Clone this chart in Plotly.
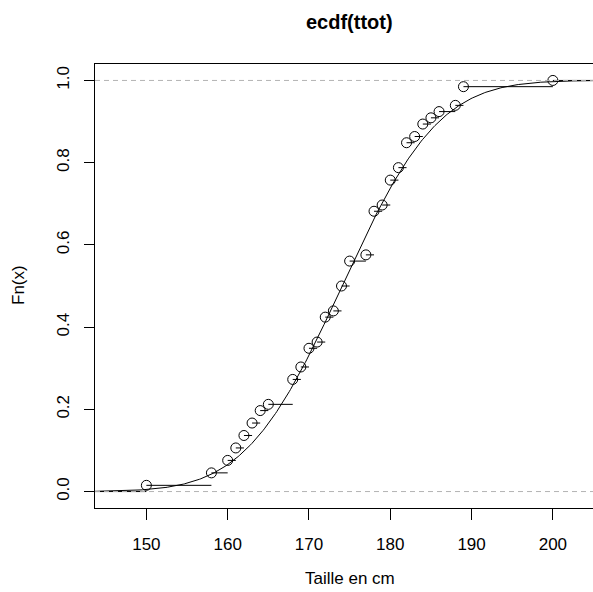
import math
import plotly.graph_objects as go

# Sample heights (cm) and how many times each occurs (n = 66)
heights = [150, 158, 160, 161, 162, 163, 164, 165, 168, 169, 170, 171, 172, 173,
           174, 175, 177, 178, 179, 180, 181, 182, 183, 184, 185, 186, 188, 189, 200]
counts = [1, 2, 2, 2, 2, 2, 2, 1, 4, 2, 3, 1, 4, 1,
          4, 4, 1, 7, 1, 4, 2, 4, 1, 2, 1, 1, 1, 3, 1]
x_ticks = [150, 160, 170, 180, 190, 200]
y_ticks = [0.0, 0.2, 0.4, 0.6, 0.8, 1.0]
y_tick_text = ["0.0", "0.2", "0.4", "0.6", "0.8", "1.0"]

PXU = 8.13            # pixels per cm on the x axis
XMIN = 143.68
PW, PH = 498, 444     # plot area size in pixels
XMAX = XMIN + PW / PXU
YMIN, YMAX = -0.04, 1.04

n = sum(counts)
cum = []
s = 0
for c in counts:
    s += c
    cum.append(s / n)

mean = sum(h * c for h, c in zip(heights, counts)) / n
sd = math.sqrt(sum(c * (h - mean) ** 2 for h, c in zip(heights, counts)) / (n - 1))

# normal CDF curve
cx = [XMIN + (XMAX - XMIN) * i / 400 for i in range(401)]
cy = [0.5 * (1 + math.erf((v - mean) / (sd * math.sqrt(2)))) for v in cx]

# ecdf horizontal segments
sx, sy = [XMIN, heights[0], None], [0, 0, None]
for i in range(len(heights)):
    x1 = heights[i + 1] if i + 1 < len(heights) else XMAX
    sx += [heights[i], x1, None]
    sy += [cum[i], cum[i], None]

FONT = "Liberation Sans, Arial, Helvetica, sans-serif"

fig = go.Figure()
fig.add_trace(go.Scatter(x=sx, y=sy, mode="lines", line=dict(color="black", width=1),
                         hoverinfo="skip", showlegend=False))
fig.add_trace(go.Scatter(x=cx, y=cy, mode="lines", line=dict(color="black", width=1),
                         hoverinfo="skip", showlegend=False))
fig.add_trace(go.Scatter(x=heights, y=cum, mode="markers",
                         marker=dict(symbol="circle-open", size=10, color="black",
                                     line=dict(width=1, color="black")),
                         showlegend=False))

for yv in (0, 1):
    fig.add_shape(type="line", xref="paper", yref="y", x0=0, x1=1, y0=yv, y1=yv,
                  line=dict(color="#B3B3B3", width=1, dash="5px,4px"))

fig.update_layout(
    width=593, height=592,
    margin=dict(l=95, r=0, t=64, b=84),
    paper_bgcolor="white", plot_bgcolor="white",
    font=dict(family=FONT, size=17, color="black"),
    xaxis=dict(range=[XMIN, XMAX], tickvals=x_ticks, ticks="outside", ticklen=11,
               tickcolor="black", showline=True, mirror=True, linecolor="black",
               linewidth=1, showgrid=False, zeroline=False, ticklabelstandoff=10,
               tickfont=dict(size=17)),
    yaxis=dict(range=[YMIN, YMAX], tickvals=y_ticks, ticktext=y_tick_text,
               ticks="outside", ticklen=10, tickangle=-90,
               tickcolor="black", showline=True, mirror=False, linecolor="black",
               linewidth=1, showgrid=False, zeroline=False, ticklabelstandoff=8,
               tickfont=dict(size=17)),
    annotations=[
        dict(text="<b>ecdf(ttot)</b>", xref="paper", yref="paper",
             x=(349.5 - 95) / PW, y=1 + (64 - 22) / PH, showarrow=False,
             font=dict(size=20), xanchor="center", yanchor="middle"),
        dict(text="Taille en cm", xref="paper", yref="paper",
             x=(349.5 - 95) / PW, y=-(578 - 508) / PH, showarrow=False,
             font=dict(size=17), xanchor="center", yanchor="middle"),
        dict(text="Fn(x)", xref="paper", yref="paper",
             x=(18 - 95) / PW, y=(508 - 285) / PH, showarrow=False, textangle=-90,
             font=dict(size=17), xanchor="center", yanchor="middle"),
    ],
)

# remove the default 8px page margin so the figure sits at the window's corner
fig.write_html("out.html",
               config={"displayModeBar": False},
               post_script="document.body.style.margin='0';document.body.style.overflow='hidden';")
